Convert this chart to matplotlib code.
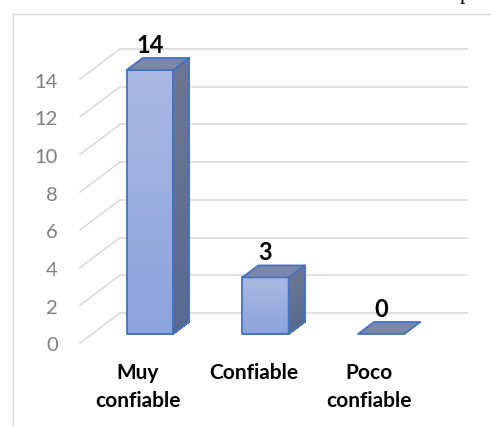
import matplotlib
matplotlib.use("Agg")
import matplotlib.pyplot as plt
import numpy as np
from matplotlib.patches import Polygon
from matplotlib.lines import Line2D
from matplotlib.transforms import IdentityTransform
from matplotlib.colors import to_rgb

# --- data -------------------------------------------------------------
categories = ["Muy\nconfiable", "Confiable", "Poco\nconfiable"]
values = [14, 3, 0]
y_ticks = [0, 2, 4, 6, 8, 10, 12, 14]

# --- styling ----------------------------------------------------------
FONT = ["Lato", "DejaVu Sans"]
GRID = "#d9d9d9"
TICK_COLOR = "#7f7f7f"
EDGE = "#4472c4"
FRONT_TOP, FRONT_BOT = "#aab7e2", "#8ca3dc"
SIDE_TOP, SIDE_BOT = "#6c7692", "#58698f"
TOP_FACE = "#7c87a8"

W, H = 491, 427
fig = plt.figure(figsize=(W / 100, H / 100), dpi=100)
fig.patch.set_facecolor("white")

# front plane of the floor: categories along x, values along y
ax = fig.add_axes([80 / W, (H - 344) / H, 347 / W, 264 / H])
ax.set_xlim(-0.5, len(categories) - 0.5)
ax.set_ylim(0, 14)
ax.set_axis_off()

DEPTH = (40.0, 30.0)  # oblique offset (pixels) from front to back wall
ident = IdentityTransform()


def proj(x, v, d):
    """Map category x, value v and depth d (0 front .. 1 back) to pixels."""
    X, Y = ax.transData.transform((x, v))
    return X + DEPTH[0] * d, Y + DEPTH[1] * d


def mix(c1, c2, t):
    a, b = np.array(to_rgb(c1)), np.array(to_rgb(c2))
    return tuple(a + (b - a) * t)


def gradient_face(corner, v, c_bot, c_top, n=40):
    """Fill a vertical face in n horizontal strips from value 0 up to v."""
    for k in range(n):
        a, b = v * k / n, v * (k + 1) / n
        col = mix(c_bot, c_top, (k + 0.5) / n)
        ax.add_patch(Polygon(corner(a, b), closed=True, transform=ident,
                             clip_on=False, facecolor=col, edgecolor=col,
                             lw=0.6, antialiased=False, zorder=3))


# chart frame (left and top edges)
fig.add_artist(Line2D([13, 13], [0, H - 15], color=GRID, lw=1.0, transform=ident))
fig.add_artist(Line2D([13, W], [H - 15, H - 15], color=GRID, lw=1.0, transform=ident))

# back wall gridlines, side diagonals and tick labels
for t in y_ticks:
    x0, y0 = proj(-0.5, t, 1)
    x1, y1 = proj(len(categories) - 0.5, t, 1)
    ax.add_line(Line2D([x0, x1], [y0, y1], color=GRID, lw=1.1,
                       transform=ident, clip_on=False, zorder=1))
    fx, fy = proj(-0.5, t, 0)
    ax.add_line(Line2D([fx, x0], [fy, y0], color=GRID, lw=1.1,
                       transform=ident, clip_on=False, zorder=1))
    ax.text(fx - 22, fy - 2, str(t), transform=ident, ha="right", va="center",
            fontsize=14.5, color=TICK_COLOR, family=FONT)

# 3-D bars
HALF = 0.2
D0, D1 = 0.3, 0.7
for i, v in enumerate(values):
    xl, xr = i - HALF, i + HALF
    if v > 0:
        gradient_face(lambda a, b: [proj(xr, a, D0), proj(xr, a, D1),
                                    proj(xr, b, D1), proj(xr, b, D0)],
                      v, SIDE_BOT, SIDE_TOP)
        gradient_face(lambda a, b: [proj(xl, a, D0), proj(xr, a, D0),
                                    proj(xr, b, D0), proj(xl, b, D0)],
                      v, FRONT_BOT, FRONT_TOP)
        side = [proj(xr, 0, D0), proj(xr, 0, D1), proj(xr, v, D1), proj(xr, v, D0)]
        front = [proj(xl, 0, D0), proj(xr, 0, D0), proj(xr, v, D0), proj(xl, v, D0)]
        for face in (side, front):
            ax.add_patch(Polygon(face, closed=True, transform=ident, clip_on=False,
                                 facecolor="none", edgecolor=EDGE, lw=1.3,
                                 joinstyle="round", zorder=4))
    top = [proj(xl, v, D0), proj(xr, v, D0), proj(xr, v, D1), proj(xl, v, D1)]
    ax.add_patch(Polygon(top, closed=True, transform=ident, clip_on=False,
                         facecolor=TOP_FACE, edgecolor=EDGE, lw=1.3,
                         joinstyle="round", zorder=5))

    # value label above the bar
    lx, _ = proj(i, v, D0)
    _, ly = proj(i, v, D1)
    ax.text(lx, ly + 6, str(v), transform=ident, ha="center", va="baseline",
            fontsize=17, fontweight="bold", color="black", family=FONT, zorder=6)

    # category label under the floor
    cx, cy = proj(i, 0, 0)
    ax.text(cx, cy - 19, categories[i], transform=ident, ha="center", va="top",
            multialignment="center", linespacing=1.5,
            fontsize=15, fontweight="bold", color="black", family=FONT)

# tail of the surrounding document text at the top right
fig.text(465 / W, 1.0 + 1 / H, "p", ha="center", va="baseline", fontsize=16,
         family=["Liberation Serif", "DejaVu Serif"], color="black")

fig.savefig("out.png", dpi=100, facecolor="white")
